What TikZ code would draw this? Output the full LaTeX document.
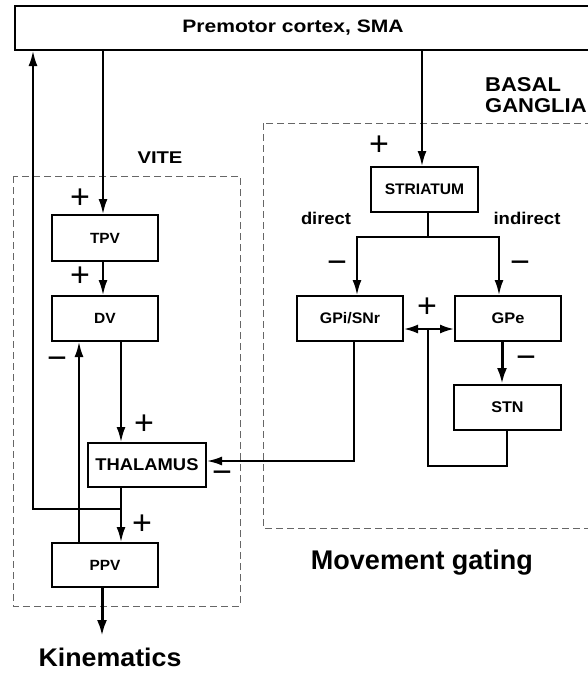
\documentclass[tikz,border=0pt]{standalone}
\usepackage{fontspec}
\setmainfont{Liberation Sans}
\usetikzlibrary{arrows.meta,calc}
\newcommand{\sx}[2]{\scalebox{#1}[1]{#2}}
\tikzset{
 blk/.style={draw, line width=2pt, inner sep=0pt, fill=white, font=\bfseries},
 grp/.style={draw=black!60, line width=0.9pt, dash pattern=on 7pt off 4pt},
 conn/.style={line width=2pt, -{Latex[length=15pt,width=9pt]}},
 plainln/.style={line width=2pt},
 thickconn/.style={line width=3pt, -{Latex[length=16pt,width=10pt]}},
 sign/.style={font=\fontsize{34}{34}\selectfont, inner sep=0pt},
 lbl/.style={inner sep=0pt, font=\bfseries},
}
\begin{document}
\begin{tikzpicture}[x=1pt,y=-1pt]
\clip (0,0) rectangle (588,673);
\fill[white] (0,0) rectangle (588,673);

% group frames
\draw[grp] (13,176) rectangle (240,606);
\draw[grp] (263,123) rectangle (600,528);

% blocks
\node[blk, minimum width=590pt, minimum height=44pt, anchor=north west] (pm) at (14,5) {};
\node[lbl] (pmt) at (293,28) {\fontsize{18}{18}\selectfont\sx{1.17}{Premotor cortex, SMA}};
\node[blk, minimum width=106pt, minimum height=46pt] (tpv) at (105,238) {\fontsize{14.8}{15}\selectfont\sx{1.04}{TPV}};
\node[blk, minimum width=106pt, minimum height=45pt] (dv) at (105,318.5) {\fontsize{14.8}{15}\selectfont\sx{1.05}{DV}};
\node[blk, minimum width=118pt, minimum height=44pt] (thal) at (147,465) {\fontsize{17}{17}\selectfont\sx{1.08}{THALAMUS}};
\node[blk, minimum width=106pt, minimum height=44pt] (ppv) at (105,565) {\fontsize{14.8}{15}\selectfont\sx{1.04}{PPV}};
\node[blk, minimum width=107pt, minimum height=45pt] (str) at (424.5,189.5) {\fontsize{15.3}{15}\selectfont\sx{1.02}{STRIATUM}};
\node[blk, minimum width=106pt, minimum height=45pt] (gpi) at (350,318.5) {\fontsize{15.3}{15}\selectfont\sx{1.04}{GPi/SNr}};
\node[blk, minimum width=106pt, minimum height=45pt] (gpe) at (508,318.5) {\fontsize{15.3}{15}\selectfont\sx{1.07}{GPe}};
\node[blk, minimum width=107pt, minimum height=45pt] (stn) at (507.5,407.5) {\fontsize{15.5}{15}\selectfont\sx{1.04}{STN}};

% text labels
\node[lbl] (vite) at (160,158) {\fontsize{17}{17}\selectfont\sx{1.19}{VITE}};
\node[lbl, anchor=west] (basal) at (485,85) {\fontsize{20}{20}\selectfont\sx{1.1}{BASAL}};
\node[lbl, anchor=west] (gang) at (485,106) {\fontsize{20}{20}\selectfont\sx{1.1}{GANGLIA}};
\node[lbl] (direct) at (326,218) {\fontsize{17}{17}\selectfont\sx{1.08}{direct}};
\node[lbl] (indirect) at (527,218) {\fontsize{17}{17}\selectfont\sx{1.09}{indirect}};
\node[lbl] (kin) at (110,657) {\fontsize{25.5}{26}\selectfont\sx{1.05}{Kinematics}};
\node[lbl] (mg) at (422,563) {\fontsize{27}{27}\selectfont Movement gating};

% signs
\node[sign] (s1) at (80,199) {+};
\node[sign] (s2) at (80,277) {+};
\node[sign] (s3) at (144,425) {+};
\node[sign] (s4) at (142,525) {+};
\node[sign] (s5) at (379,146) {+};
\node[sign] (s6) at (427,308) {+};
\node[sign] (m1) at (57,363) {−};
\node[sign] (m2) at (222,477) {−};
\node[sign] (m3) at (337,267) {−};
\node[sign] (m4) at (520,267) {−};
\node[sign] (m5) at (526,362) {−};

% VITE connectors
\coordinate (tn) at ($(tpv.north)+(-2,0)$);
\draw[conn] (tn |- pm.south) -- (tn);
\draw[conn] ($(tpv.south)+(-2,0)$) -- ($(dv.north)+(-2,0)$);
\coordinate (dvo) at ($(dv.south)+(16,0)$);
\draw[conn] (dvo) -- (dvo |- thal.north);
\coordinate (tho) at (dvo |- thal.south);
\draw[conn] (tho) -- (tho |- ppv.north);
\coordinate (jn) at ($(tho)+(0,21)$);
\coordinate (lu) at ($(pm.south west)+(19,0)$);
\draw[conn] (jn) -| (lu);
\draw[conn] ($(ppv.north)+(-26,0)$) -- ($(dv.south)+(-26,0)$);
\draw[thickconn] ($(ppv.south)+(-3,0)$) -- ($(ppv.south)+(-3,48)$);

% basal ganglia connectors
\coordinate (sn) at ($(str.north)+(-2.5,0)$);
\draw[conn] (sn |- pm.south) -- (sn);
\coordinate (ss) at ($(str.south)+(3.5,0)$);
\coordinate (sb) at ($(ss)+(0,24)$);
\draw[plainln] (ss) -- (sb);
\draw[conn] (sb) -| ($(gpi.north)+(7,0)$);
\draw[conn] (sb) -| ($(gpe.north)+(-9,0)$);
\coordinate (gs) at ($(gpe.south)+(-6,0)$);
\draw[thickconn] (gs) -- (gs |- stn.north);
\coordinate (gl) at ($(gpi.east)+(0,10.5)$);
\draw[line width=2pt, {Latex[length=14pt,width=9pt]}-{Latex[length=14pt,width=9pt]}] (gl) -- (gl -| gpe.west);
\coordinate (gm) at ($(gl)+(24,0)$);
\coordinate (sts) at ($(stn.south)+(-0.5,0)$);
\draw[plainln] (sts) -- ++(0,35) -| (gm);
\coordinate (go) at ($(gpi.south)+(4,0)$);
\draw[conn] (go) |- ($(thal.east)+(0,-4)$);
\end{tikzpicture}
\end{document}
